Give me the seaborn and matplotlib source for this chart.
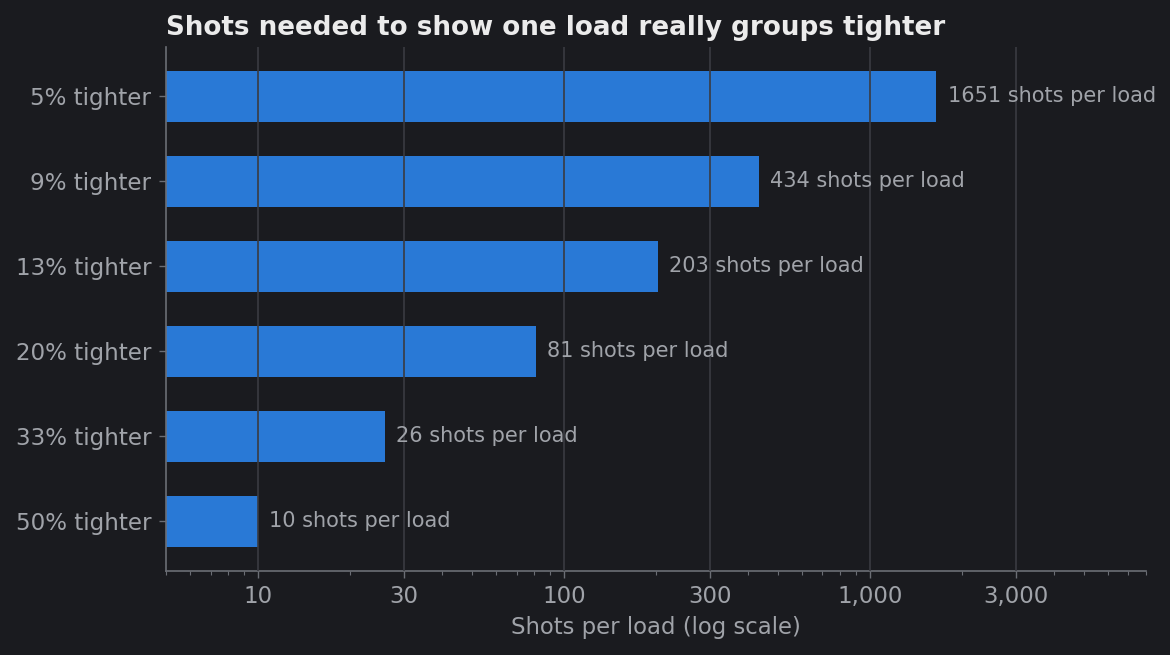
import matplotlib
matplotlib.use("Agg")
import matplotlib.pyplot as plt
import matplotlib.ticker as mticker
import seaborn as sns
import pandas as pd

categories = ["5% tighter", "9% tighter", "13% tighter", "20% tighter", "33% tighter", "50% tighter"]
shots = [1651, 434, 203, 81, 26, 10]
xtick_values = [10, 30, 100, 300, 1000, 3000]
xtick_labels = ["10", "30", "100", "300", "1,000", "3,000"]

BG = "#1a1b1f"
BAR = "#2979d6"
GRID = "#3a3b41"
SPINE = "#6b6e75"
TXT = "#a0a3a9"
TITLE = "#ebebeb"

sns.set_theme(style="dark")
plt.rcParams["font.family"] = ["DejaVu Sans"]

df = pd.DataFrame({"label": categories, "shots": shots})

fig = plt.figure(figsize=(11.7, 6.55), dpi=100, facecolor=BG)
ax = fig.add_axes([0.1419, 0.128, 0.8376, 0.800])
ax.set_facecolor(BG)

sns.barplot(data=df, x="shots", y="label", orient="h", color=BAR, width=0.6,
            saturation=1, ax=ax, log_scale=(True, False), linewidth=0, edgecolor="none")

ax.set_xscale("log")
ax.set_xlim(5, 8000)
ax.set_ylim(5.59, -0.58)

ax.set_xticks(xtick_values)
ax.set_xticklabels(xtick_labels)
ax.xaxis.set_minor_locator(mticker.LogLocator(base=10, subs=[2, 3, 4, 5, 6, 7, 8, 9], numticks=20))
ax.xaxis.set_minor_formatter(mticker.NullFormatter())

ax.set_axisbelow(False)
ax.grid(False)
ax.xaxis.grid(True, which="major", color=GRID, linewidth=1.2)
ax.yaxis.grid(False)

for side in ["top", "right"]:
    ax.spines[side].set_visible(False)
for side in ["left", "bottom"]:
    ax.spines[side].set_visible(True)
    ax.spines[side].set_color(SPINE)
    ax.spines[side].set_linewidth(1.2)

ax.tick_params(axis="x", which="major", length=5, width=1, color=SPINE, labelcolor=TXT, labelsize=16.5, bottom=True, pad=5)
ax.tick_params(axis="x", which="minor", length=3, width=0.8, color=SPINE, bottom=True)
ax.tick_params(axis="y", which="major", length=5, width=1, color=SPINE, labelcolor=TXT, labelsize=16.6, left=True, pad=5.5)

for i, v in enumerate(shots):
    ax.annotate(f"{v} shots per load", xy=(v, i), xytext=(8, 0), textcoords="offset points",
                va="center", ha="left", color=TXT, fontsize=15)

ax.set_xlabel("Shots per load (log scale)", color=TXT, fontsize=16.4, labelpad=6)
ax.set_ylabel("")
ax.set_title("Shots needed to show one load really groups tighter", loc="left",
             color=TITLE, fontsize=18.8, fontweight="bold", pad=9)

fig.savefig("out.png", dpi=100, facecolor=BG)
